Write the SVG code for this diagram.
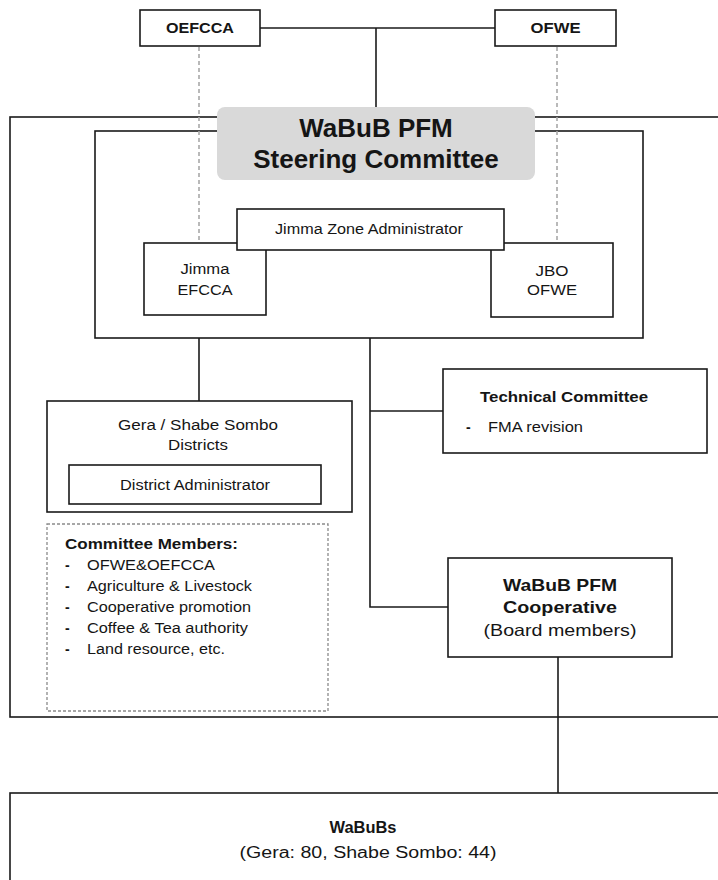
<svg xmlns="http://www.w3.org/2000/svg" width="718" height="880" viewBox="0 0 718 880">
<style>
.box{fill:#fff;stroke:#1a1a1a;stroke-width:1.6}
.frame{fill:none;stroke:#1a1a1a;stroke-width:1.6}
.ln{fill:none;stroke:#1a1a1a;stroke-width:1.6}
.dl{fill:none;stroke:#a8a8a8;stroke-width:1.6;stroke-dasharray:4 3}
.dbox{fill:none;stroke:#8a8a8a;stroke-width:1.3;stroke-dasharray:3 2}
text{font-family:"Liberation Sans",Arial,sans-serif;fill:#151515;font-size:14px}
.b{font-weight:bold}
.m{text-anchor:middle}
</style>
<rect width="718" height="880" fill="#fff"/>
<g id="frame-outer"><rect class="frame" x="10" y="117" width="730" height="600"/></g>
<g id="frame-inner"><rect class="frame" x="95" y="131" width="548" height="207"/></g>
<g id="connectors">
<polyline class="ln" points="260,28 495,28"/>
<polyline class="ln" points="376,28 376,108"/>
<polyline class="ln" points="199,338 199,401"/>
<polyline class="ln" points="370,338 370,607 448,607"/>
<polyline class="ln" points="370,411 443,411"/>
<polyline class="ln" points="558,657 558,793"/>
<polyline class="dl" points="199,47 199,243"/>
<polyline class="dl" points="557,47 557,243"/>
</g>
<g id="oefcca"><rect class="box" x="140" y="10" width="120" height="36"/><text class="b m" x="200" y="33" textLength="68" lengthAdjust="spacingAndGlyphs">OEFCCA</text></g>
<g id="ofwe"><rect class="box" x="495" y="10" width="121" height="36"/><text class="b m" x="555.5" y="33" textLength="50" lengthAdjust="spacingAndGlyphs">OFWE</text></g>
<g id="steering"><rect x="217" y="107" width="318" height="73" rx="8" fill="#d9d9d9"/><text class="b m" x="376" y="137" style="font-size:26px">WaBuB PFM</text><text class="b m" x="376" y="168" style="font-size:26px">Steering Committee</text></g>
<g id="jimma-efcca"><rect class="box" x="144" y="243" width="122" height="72"/><text class="m" x="205" y="274" textLength="49" lengthAdjust="spacingAndGlyphs">Jimma</text><text class="m" x="205" y="295" textLength="55" lengthAdjust="spacingAndGlyphs">EFCCA</text></g>
<g id="jbo-ofwe"><rect class="box" x="491" y="243" width="122" height="74"/><text class="m" x="552" y="276" textLength="33" lengthAdjust="spacingAndGlyphs">JBO</text><text class="m" x="552" y="295" textLength="50" lengthAdjust="spacingAndGlyphs">OFWE</text></g>
<g id="zone-admin"><rect class="box" x="237" y="209" width="267" height="41"/><text class="m" x="369" y="234" textLength="188" lengthAdjust="spacingAndGlyphs">Jimma Zone Administrator</text></g>
<g id="districts"><rect class="box" x="47" y="401" width="305" height="111"/><text class="m" x="198" y="430" textLength="160" lengthAdjust="spacingAndGlyphs">Gera / Shabe Sombo</text><text class="m" x="198" y="450" textLength="60" lengthAdjust="spacingAndGlyphs">Districts</text></g>
<g id="district-admin"><rect class="box" x="69" y="465" width="252" height="39"/><text class="m" x="195" y="490" textLength="150" lengthAdjust="spacingAndGlyphs">District Administrator</text></g>
<g id="committee-members"><rect class="dbox" x="47" y="524" width="281" height="187"/>
<text class="b" x="65" y="549" textLength="173" lengthAdjust="spacingAndGlyphs">Committee Members:</text>
<text class="b" x="65" y="570">-</text><text x="87" y="570" textLength="128" lengthAdjust="spacingAndGlyphs">OFWE&amp;OEFCCA</text>
<text class="b" x="65" y="591">-</text><text x="87" y="591" textLength="165" lengthAdjust="spacingAndGlyphs">Agriculture &amp; Livestock</text>
<text class="b" x="65" y="612">-</text><text x="87" y="612" textLength="164" lengthAdjust="spacingAndGlyphs">Cooperative promotion</text>
<text class="b" x="65" y="633">-</text><text x="87" y="633" textLength="161" lengthAdjust="spacingAndGlyphs">Coffee &amp; Tea authority</text>
<text class="b" x="65" y="654">-</text><text x="87" y="654" textLength="138" lengthAdjust="spacingAndGlyphs">Land resource, etc.</text>
</g>
<g id="technical-committee"><rect class="box" x="443" y="369" width="264" height="84"/><text class="b" x="480" y="402" textLength="168" lengthAdjust="spacingAndGlyphs">Technical Committee</text><text class="b" x="466" y="432">-</text><text x="488" y="432" textLength="95" lengthAdjust="spacingAndGlyphs">FMA revision</text></g>
<g id="cooperative"><rect class="box" x="448" y="558" width="224" height="99"/><text class="b m" x="560" y="591" style="font-size:16.5px" textLength="114" lengthAdjust="spacingAndGlyphs">WaBuB PFM</text><text class="b m" x="560" y="613" style="font-size:16.5px" textLength="114" lengthAdjust="spacingAndGlyphs">Cooperative</text><text class="m" x="560" y="636" style="font-size:16.5px" textLength="153" lengthAdjust="spacingAndGlyphs">(Board members)</text></g>
<g id="wabubs"><rect class="box" x="10" y="793" width="730" height="100"/><text class="b m" x="363" y="833" style="font-size:16px" textLength="67" lengthAdjust="spacingAndGlyphs">WaBuBs</text><text class="m" x="368" y="858" style="font-size:16px" textLength="257" lengthAdjust="spacingAndGlyphs">(Gera: 80, Shabe Sombo: 44)</text></g>
</svg>
